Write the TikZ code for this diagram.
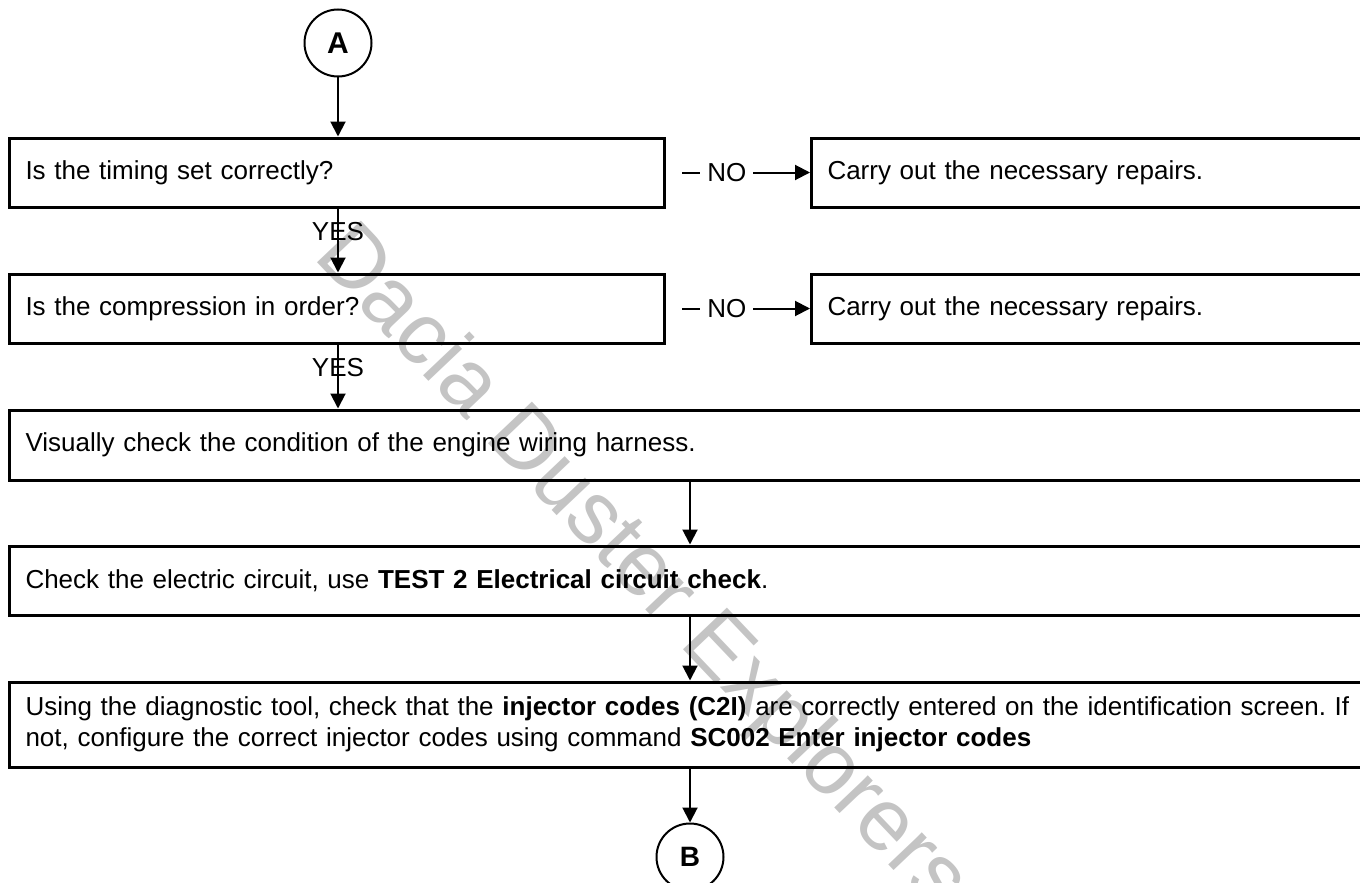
\documentclass[tikz,border=0pt]{standalone}
\usepackage{fontspec}
\setmainfont{Liberation Sans}
\usetikzlibrary{arrows.meta}
\definecolor{wmgray}{RGB}{196,196,196}
\frenchspacing
\tikzset{
  box/.style={draw, line width=3pt, rectangle, anchor=west, inner xsep=16pt, inner ysep=0pt,
    align=left, font=\fontsize{26}{31}\selectfont},
  conn/.style={draw, line width=2pt, -{Triangle[width=15pt,length=15pt]}},
  lbl/.style={font=\fontsize{26}{31}\selectfont, inner sep=2pt},
  nolbl/.style={font=\fontsize{26}{31}\selectfont, fill=white, inner xsep=7pt, inner ysep=2pt},
  term/.style={draw, circle, line width=2pt, minimum size=67pt, inner sep=0pt, font=\fontsize{30}{30}\selectfont\bfseries},
  wm/.style={text=wmgray, font=\fontsize{88}{88}\selectfont, rotate=-46.5}
}
\begin{document}
\begin{tikzpicture}[x=1pt, y=-1pt]
\useasboundingbox (0,0) rectangle (1360,883);
\begin{scope}
\clip (0,0) rectangle (1360,883);
\node[wm] (wmark) at (640,570) {Dacia Duster Explorers};

\node[term] (A) at (338,43) {A};
\node[box, minimum width=655pt, minimum height=69pt, text width=623pt] (q1) at (8,172.5) {Is the timing set correctly?};
\node[box, minimum width=559pt, minimum height=69pt, text width=527pt] (r1) at (810,172.5) {Carry out the necessary repairs.};
\node[box, minimum width=655pt, minimum height=69pt, text width=623pt] (q2) at (8,308.5) {Is the compression in order?};
\node[box, minimum width=559pt, minimum height=69pt, text width=527pt] (r2) at (810,308.5) {Carry out the necessary repairs.};
\node[box, minimum width=1361pt, minimum height=70pt, text width=1329pt] (q3) at (8,445) {Visually check the condition of the engine wiring harness.};
\node[box, minimum width=1361pt, minimum height=69pt, text width=1329pt] (q4) at (8,580.5) {Check the electric circuit, use \textbf{TEST 2 Electrical circuit check}.};
\node[box, minimum width=1361pt, minimum height=85pt, text width=1329pt] (q5) at (8,724.5) {Using the diagnostic tool, check that the \textbf{injector codes (C2I)} are correctly entered on the identification screen. If\\not, configure the correct injector codes using command \textbf{SC002 Enter injector codes}};
\node[term, font=\fontsize{28}{28}\selectfont\bfseries] (B) at (q5.south |- 0,857) {B};

\draw[conn] (A) -- (A |- q1.north);
\draw[conn] (A |- q1.south) -- node[lbl, pos=0.36] {YES} (A |- q2.north);
\draw[conn] (A |- q2.south) -- node[lbl, pos=0.36] {YES} (A |- q3.north);
\draw[conn] (q3.south) -- (q4.north);
\draw[conn] (q4.south) -- (q5.north);
\draw[conn] (q5.south) -- (B);
\coordinate (n1) at ([xshift=16pt]q1.east);
\coordinate (n2) at ([xshift=16pt]q2.east);
\draw[conn] (n1) -- node[nolbl, pos=0.35] {NO} (r1.west);
\draw[conn] (n2) -- node[nolbl, pos=0.35] {NO} (r2.west);
\end{scope}
\end{tikzpicture}
\end{document}
